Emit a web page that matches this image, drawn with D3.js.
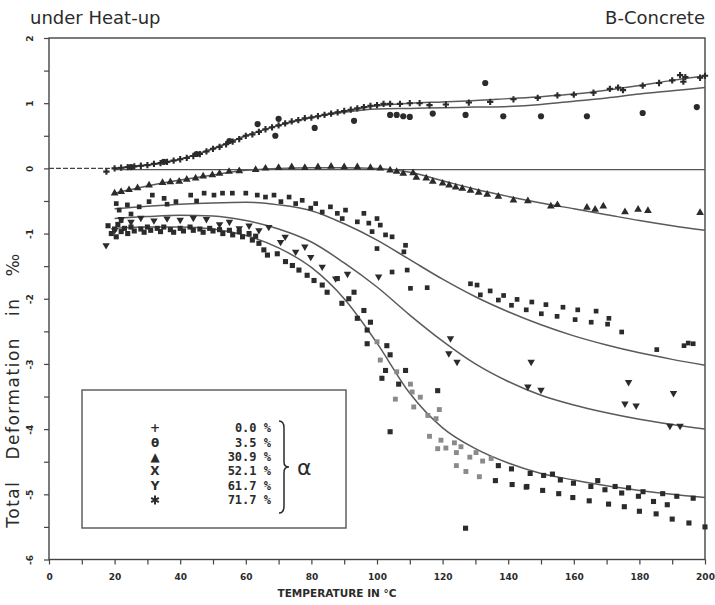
<!DOCTYPE html>
<html>
<head>
<meta charset="utf-8">
<script src="https://cdn.jsdelivr.net/npm/d3@7"></script>
<style>
  body { margin: 0; background: #fff; }
  svg { display: block; }
</style>
</head>
<body>
<svg id="chart" width="715" height="605"></svg>
<script>
// temperatures (°C) at which the fitted curves are given
const fitTemps = [20, 30, 40, 50, 60, 70, 80, 90, 100, 110, 120, 130, 140, 150, 160, 170, 180, 190, 200];

// fitted curves, total deformation in ‰
const fit00  = [0, 0.05, 0.14, 0.3, 0.5, 0.66, 0.78, 0.88, 0.96, 1.0, 1.02, 1.04, 1.07, 1.1, 1.14, 1.2, 1.27, 1.35, 1.42];
const fit35  = [0, 0.05, 0.14, 0.3, 0.5, 0.66, 0.78, 0.86, 0.91, 0.92, 0.93, 0.94, 0.95, 0.98, 1.03, 1.08, 1.14, 1.19, 1.24];
const fit309 = [-0.38, -0.27, -0.18, -0.1, -0.03, 0, 0.01, 0.01, 0, -0.06, -0.19, -0.32, -0.43, -0.53, -0.62, -0.71, -0.8, -0.88, -0.95];
const fit521 = [-0.62, -0.58, -0.55, -0.53, -0.52, -0.56, -0.65, -0.85, -1.1, -1.4, -1.7, -1.97, -2.2, -2.4, -2.57, -2.71, -2.83, -2.93, -3.02];
const fit617 = [-0.77, -0.74, -0.72, -0.73, -0.8, -0.93, -1.13, -1.45, -1.82, -2.25, -2.65, -3.0, -3.27, -3.48, -3.63, -3.75, -3.85, -3.93, -4.0];
const fit717 = [-0.92, -0.9, -0.9, -0.93, -1.03, -1.22, -1.52, -2.0, -2.68, -3.45, -3.98, -4.3, -4.52, -4.68, -4.78, -4.87, -4.94, -5.0, -5.05];

// measured points [temperature, deformation]
const pts00 = [[17.5,-0.05],[20,0],[22,0.01],[24,0.02],[26,0.03],[28,0.04],[30,0.05],[32,0.07],[34,0.08],[36,0.1],[38,0.12],[40,0.14],
  [42,0.16],[44,0.19],[46,0.22],[48,0.26],[50,0.3],[52,0.33],[54,0.37],[56,0.41],[58,0.45],[60,0.5],[62,0.52],[64,0.56],[66,0.6],
  [68,0.63],[70,0.66],[72,0.69],[74,0.72],[76,0.74],[78,0.77],[80,0.78],[82,0.8],[84,0.82],[86,0.84],[88,0.86],[90,0.88],[92,0.9],
  [94,0.92],[96,0.94],[98,0.96],[100,0.97],[102,0.99],[104,0.99],[107,0.99],[110,1.0],[113,1.0],[116,0.97],[121,0.98],[128,1.01],
  [134.5,1.02],[141.6,1.06],[149,1.08],[155,1.12],[160,1.13],[166,1.16],[171,1.22],[173.5,1.24],[175,1.2],[181,1.27],[186,1.31],
  [190,1.35],[192.4,1.43],[193.4,1.33],[194,1.4],[198.5,1.39],[200,1.42]];
const pts35 = [[25,0.02],[35,0.1],[45,0.22],[55,0.42],[63.6,0.68],[69,0.5],[70,0.76],[81,0.62],[93,0.73],[104,0.82],[106,0.82],
  [108,0.8],[110,0.79],[117,0.84],[127,0.82],[133,1.31],[138.5,0.8],[150,0.8],[164,0.8],[181,0.85],[197.5,0.94]];
const pts309 = [[20,-0.38],[22,-0.36],[24.4,-0.33],[27,-0.3],[30.5,-0.26],[34.6,-0.22],[37,-0.21],[39.7,-0.2],[42,-0.17],[44.7,-0.15],
  [47,-0.12],[49.8,-0.1],[52,-0.08],[54.9,-0.05],[58,-0.04],[63,-0.02],[66,0],[70,0.01],[74,0.02],[78,0.01],[82,0.02],[86,0.03],
  [90,0.02],[94,0.02],[98,0.01],[101,0],[104,-0.03],[106,-0.05],[108,-0.08],[111,-0.07],[112,-0.14],[115,-0.15],[117,-0.2],
  [120,-0.23],[122,-0.26],[124,-0.29],[126,-0.31],[128.5,-0.34],[131,-0.37],[133.6,-0.4],[137,-0.43],[141.6,-0.49],[146,-0.5],
  [153,-0.58],[155,-0.56],[164,-0.6],[166.5,-0.63],[169,-0.58],[175.6,-0.67],[179.6,-0.63],[182.6,-0.65],[198.5,-0.68]];
const pts521 = [[20.5,-0.54],[21.4,-0.64],[22,-0.8],[23.9,-0.56],[25,-0.7],[27.5,-0.59],[30.5,-0.51],[31.5,-0.41],[35.1,-0.46],
  [36,-0.55],[38.7,-0.51],[43.2,-0.41],[45,-0.5],[47.3,-0.38],[50.3,-0.41],[52.9,-0.38],[55.9,-0.38],[60,-0.38],[63.5,-0.41],
  [66,-0.44],[68.6,-0.41],[70.7,-0.51],[73.2,-0.44],[75.2,-0.54],[77.2,-0.49],[79.8,-0.61],[81.3,-0.54],[83.3,-0.67],[85.8,-0.59],
  [87.9,-0.69],[89.4,-0.77],[90.4,-0.64],[94,-0.82],[96,-0.69],[97.5,-0.84],[98.5,-0.97],[100,-0.77],[101,-0.87],[102.6,-1.02],
  [104.6,-1.05],[100,-1.23],[108.7,-1.18],[108.2,-1.28],[109.2,-1.56],[104.6,-1.59],[110.2,-1.84],[115.3,-1.83],[128.5,-1.77],
  [130.5,-1.79],[131.5,-1.94],[134.5,-1.88],[137,-2.02],[138.6,-1.95],[141,-2.1],[142.7,-2.01],[145.5,-2.17],[147.2,-2.05],
  [150.1,-2.23],[151.5,-2.09],[154.9,-2.27],[156.7,-2.13],[160.4,-2.32],[161.2,-2.17],[165.3,-2.36],[166.8,-2.19],[170.3,-2.39],
  [170.7,-2.3],[174.6,-2.51],[185.3,-2.78],[193.6,-2.72],[194.9,-2.68],[196.4,-2.69]];
const pts617 = [[17.4,-1.18],[20,-0.95],[22,-0.78],[25,-0.82],[28,-0.76],[32,-0.8],[36,-0.77],[40,-0.79],[44,-0.76],[48,-0.78],
  [52,-0.86],[55,-0.82],[58,-0.92],[61,-0.88],[64,-0.95],[67,-0.9],[70.6,-1.13],[72,-1.05],[75.2,-1.28],[78,-1.2],[79.8,-1.36],
  [83.3,-1.51],[87.4,-1.69],[91,-1.62],[100.5,-1.66],[121.9,-2.84],[122.4,-2.61],[124.4,-2.97],[147,-2.97],[146,-3.35],
  [150,-3.4],[176.7,-3.28],[175.6,-3.61],[179,-3.64],[190.4,-3.45],[189.3,-3.95],[192.4,-3.95]];
const pts717 = [[18,-0.88],[19,-1.0],[20,-0.93],[20.5,-1.05],[21,-0.86],[22,-0.97],[23,-0.92],[24,-1.0],[25,-0.9],[26,-0.96],
  [28,-0.93],[29,-0.98],[30,-0.9],[31,-0.95],[33,-0.92],[34,-0.97],[35,-0.9],[37,-0.94],[38,-0.98],[40,-0.92],[41,-0.96],
  [43,-0.9],[44,-0.95],[46,-0.93],[47,-0.98],[49,-0.92],[50,-0.96],[52,-0.94],[53,-1.0],[55,-0.95],[56,-1.02],[58,-0.97],
  [59,-1.05],[61,-1.0],[62,-1.1],[63,-1.04],[64,-1.15],[65.5,-1.25],[66.6,-1.33],[69.6,-1.31],[72.1,-1.43],[74.2,-1.49],
  [76.2,-1.56],[78.7,-1.64],[80.8,-1.72],[83.3,-1.79],[84.8,-1.9],[87.9,-1.69],[89.3,-2.07],[91.4,-2.0],[93,-1.9],[94,-2.3],
  [96,-2.18],[97,-2.48],[98,-2.36],[97,-2.69],[103,-2.72],[104,-2.86],[102.6,-3.1],[101.5,-3.22],[108.7,-3.1],[106.6,-3.31],
  [118.5,-3.41],[104,-4.04],[136.1,-4.79],[141.2,-4.85],[145.7,-4.88],[137,-4.56],[141,-4.61],[146.7,-4.68],[150.8,-4.71],
  [153.5,-4.69],[155.9,-4.78],[159.9,-4.83],[165.2,-4.88],[167.3,-4.79],[169.5,-4.93],[172.6,-4.88],[174.6,-4.98],[176.7,-4.9],
  [179.7,-5.03],[181.1,-4.96],[187.1,-4.99],[191.4,-5.03],[196.4,-5.06],[145.5,-4.89],[150.5,-4.94],[155.4,-4.99],[159.7,-5.05],
  [164.7,-5.1],[170.6,-5.15],[175.4,-5.19],[180,-5.26],[184.3,-5.11],[185.1,-5.3],[188.5,-5.16],[190,-5.38],[195.1,-5.44],
  [200,-5.5],[127,-5.52]];
const pts717faint = [[100,-2.66],[101,-2.94],[106,-3.12],[110.2,-3.31],[110.7,-3.43],[105.6,-3.54],[113.2,-3.51],[111.2,-3.66],
  [115.5,-3.79],[118,-3.84],[119,-3.7],[116,-4.11],[119.5,-4.17],[118.5,-4.3],[121,-4.29],[123.6,-4.21],[124.2,-4.36],
  [125.6,-4.27],[124.2,-4.56],[127.1,-4.65],[128.3,-4.43],[130.2,-4.36],[131.2,-4.73],[132.2,-4.49],[134.8,-4.45]];

const legendValues = ['0.0', '3.5', '30.9', '52.1', '61.7', '71.7'];
const legendGlyphs = ['+', 'θ', '▲', 'X', 'Y', '✱'];

const svg = d3.select('#chart');
const ink = '#2b2b2b';

const x = d3.scaleLinear().domain([0, 200]).range([49, 705]);
const y = d3.scaleLinear().domain([-6, 2]).range([559.5, 38]);

// titles
svg.append('text').attr('x', 30).attr('y', 24)
  .style('font', '18px "DejaVu Sans"').style('fill', ink).text('under Heat-up');
svg.append('text').attr('x', 705).attr('y', 24).attr('text-anchor', 'end')
  .style('font', '18px "DejaVu Sans"').style('fill', ink).text('B-Concrete');

// frame
svg.append('rect')
  .attr('x', x(0)).attr('y', y(2))
  .attr('width', x(200) - x(0)).attr('height', y(-6) - y(2))
  .attr('fill', 'none').attr('stroke', '#444').attr('stroke-width', 1.4);

// axes
const xAxis = svg.append('g')
  .attr('transform', `translate(0,${y(-6)})`)
  .call(d3.axisBottom(x).tickValues(d3.range(0, 201, 10)).tickSize(5).tickPadding(9)
    .tickFormat(d => d % 20 === 0 ? d : ''));
const yAxis = svg.append('g')
  .attr('transform', `translate(${x(0)},0)`)
  .call(d3.axisLeft(y).tickValues(d3.range(-6, 2.01, 0.5)).tickSize(5)
    .tickFormat(d => Number.isInteger(d) ? String(d) : ''));

[xAxis, yAxis].forEach(g => {
  g.select('.domain').remove();
  g.selectAll('line').attr('stroke', '#444').attr('stroke-width', 1.2);
  g.selectAll('text').style('font', 'bold 9px "DejaVu Sans"').style('fill', ink);
});
yAxis.selectAll('text')
  .attr('x', null).attr('dy', null)
  .attr('text-anchor', 'middle')
  .attr('transform', 'translate(-19,0) rotate(-90)')
  .attr('dy', '0.35em');

svg.append('text')
  .attr('x', 337).attr('y', 597).attr('text-anchor', 'middle')
  .style('font', 'bold 10.5px "DejaVu Sans"').style('fill', ink)
  .text('TEMPERATURE IN °C');

svg.append('text')
  .attr('transform', 'translate(19,390) rotate(-90)')
  .attr('text-anchor', 'middle')
  .style('font', '17px "DejaVu Sans"').style('fill', ink)
  .style('letter-spacing', '1.5px').style('word-spacing', '14px')
  .text('Total Deformation in ‰');

// zero reference line
svg.append('line')
  .attr('x1', x(0)).attr('x2', x(20)).attr('y1', y(0)).attr('y2', y(0))
  .attr('stroke', '#444').attr('stroke-width', 1.2).attr('stroke-dasharray', '5,2');
svg.append('line')
  .attr('x1', x(20)).attr('x2', x(200)).attr('y1', y(-0.02)).attr('y2', y(-0.02))
  .attr('stroke', '#555').attr('stroke-width', 1.2);

// fitted curves
const fits = [fit00, fit35, fit309, fit521, fit617, fit717];
const line = d3.line()
  .x((d, i) => x(fitTemps[i]))
  .y(d => y(d))
  .curve(d3.curveMonotoneX);

svg.append('g').selectAll('path').data(fits).join('path')
  .attr('d', line)
  .attr('fill', 'none')
  .attr('stroke', '#5a5a5a')
  .attr('stroke-width', 1.5);

// measured points
const series = [
  { pts: pts00, type: d3.symbolCross, size: 22, color: ink },
  { pts: pts35, type: d3.symbolCircle, size: 30, color: ink },
  { pts: pts309, type: d3.symbolTriangle, size: 26, color: ink },
  { pts: pts521, type: d3.symbolSquare, size: 22, color: ink },
  { pts: pts617, type: d3.symbolTriangle, size: 24, color: ink, flip: true },
  { pts: pts717, type: d3.symbolSquare, size: 26, color: ink },
  { pts: pts717faint, type: d3.symbolSquare, size: 24, color: '#8a8a8a' }
];

series.forEach(s => {
  svg.append('g').selectAll('path').data(s.pts).join('path')
    .attr('d', d3.symbol().type(s.type).size(s.size))
    .attr('transform', d => `translate(${x(d[0])},${y(d[1])})` + (s.flip ? ' rotate(180)' : ''))
    .attr('fill', s.color);
});

// legend
const legend = svg.append('g');
legend.append('rect')
  .attr('x', 82).attr('y', 390).attr('width', 264).attr('height', 138)
  .attr('fill', '#fff').attr('stroke', '#555').attr('stroke-width', 1.4);

const rowY = d3.scalePoint().domain(d3.range(legendValues.length)).range([428, 500]);

legend.selectAll('text.glyph').data(legendGlyphs.slice(0, 5)).join('text')
  .attr('class', 'glyph')
  .attr('x', 155).attr('y', (d, i) => rowY(i)).attr('dy', '0.35em')
  .attr('text-anchor', 'middle')
  .style('font', 'bold 12px "DejaVu Sans"').style('fill', ink)
  .text(d => d);
// the asterisk row is drawn as a symbol
legend.append('path')
  .attr('d', d3.symbol().type(d3.symbolAsterisk).size(55))
  .attr('transform', `translate(155,${rowY(5)})`)
  .attr('fill', 'none').attr('stroke', ink).attr('stroke-width', 2);

legend.selectAll('text.val').data(legendValues).join('text')
  .attr('class', 'val')
  .attr('x', 271).attr('y', (d, i) => rowY(i)).attr('dy', '0.35em')
  .attr('text-anchor', 'end')
  .style('font', 'bold 12px "DejaVu Sans Mono"').style('fill', ink)
  .text(d => d + ' %');

// brace and alpha
const bx = 279, by0 = 421, by1 = 513, bm = (by0 + by1) / 2;
legend.append('path')
  .attr('d', `M${bx},${by0} Q${bx + 5},${by0} ${bx + 5},${by0 + 7} L${bx + 5},${bm - 5} Q${bx + 5},${bm} ${bx + 10},${bm}
    Q${bx + 5},${bm} ${bx + 5},${bm + 5} L${bx + 5},${by1 - 7} Q${bx + 5},${by1} ${bx},${by1}`)
  .attr('fill', 'none').attr('stroke', ink).attr('stroke-width', 1.5);
legend.append('text')
  .attr('x', 297).attr('y', bm).attr('dy', '0.35em')
  .style('font', '22px "DejaVu Sans"').style('fill', ink)
  .text('α');
</script>
</body>
</html>
